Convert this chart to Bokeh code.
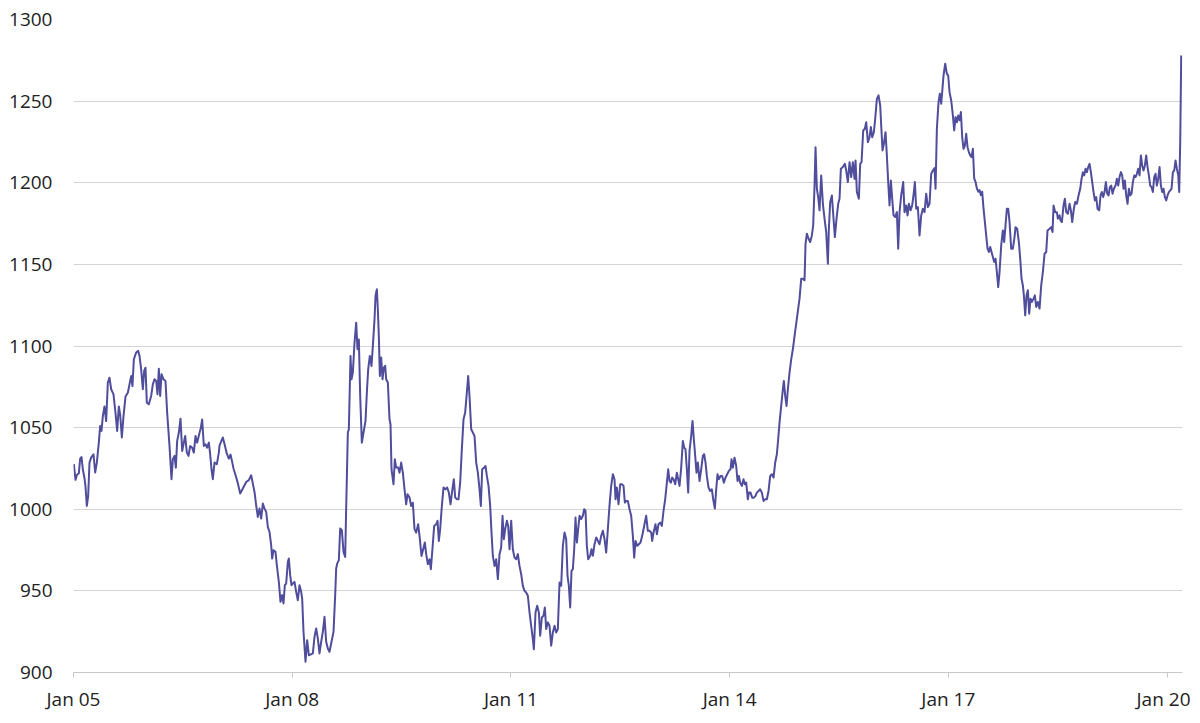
from bokeh.plotting import figure
from bokeh.models import FixedTicker
from bokeh.embed import file_html
from bokeh.resources import INLINE

# (years since Jan 2005, value) pairs
seg_2005_2007 = [(0.0046,1027.6),(0.0274,1018),(0.0457,1021),(0.0732,1022),(0.0914,1031),(0.1097,1032),(0.128,1024.5),(0.1509,1019),(0.1646,1014),(0.1829,1002),(0.2012,1008),(0.2195,1028.6),(0.2423,1031.6),(0.2743,1033.7),(0.2972,1022.5),(0.3201,1028.6),(0.3475,1041),(0.3658,1051),(0.3841,1048),(0.4024,1057),(0.4252,1063),(0.4481,1054),(0.471,1077.6),(0.4938,1080.6),(0.5167,1073.5),(0.5487,1070.4),(0.5761,1059),(0.599,1048),(0.6218,1063),(0.6401,1058),(0.663,1044),(0.6859,1057),(0.7133,1069),(0.7453,1071.4),(0.7682,1076.5),(0.791,1081.6),(0.8093,1075.5),(0.8276,1091.8),(0.8596,1096),(0.8871,1097),(0.9053,1094),(0.9282,1085.7),(0.9511,1073.5),(0.9694,1084.7),(0.9876,1086.7),(1.0059,1065.3),(1.0334,1064.3),(1.0654,1069.4),(1.0882,1076.5),(1.1111,1079.6),(1.134,1078.6),(1.1523,1070.4),(1.1706,1086),(1.1889,1069.4),(1.2071,1082.7),(1.2346,1079.6),(1.262,1078.6),(1.2849,1059),(1.3169,1038.8),(1.3443,1018.4),(1.3626,1030.6),(1.3855,1032.7),(1.4038,1025.5),(1.422,1041.9),(1.4449,1047),(1.4678,1055.5),(1.4906,1035.7),(1.5135,1040.8),(1.5318,1044.9),(1.5546,1034.7),(1.5775,1032.7),(1.6004,1038.8),(1.6278,1037.7),(1.6507,1034.7),(1.6735,1044.9),(1.6964,1040.8),(1.7238,1046),(1.7467,1050),(1.765,1055),(1.7878,1038.8),(1.8107,1039.8),(1.8336,1037.7),(1.8564,1040.8),(1.8747,1033.7),(1.893,1024.5),(1.9113,1018.4),(1.9341,1028.6),(1.9662,1027.6),(1.9936,1034.7)]

seg_2007_2008 = [(2.0027,1039),(2.0484,1044),(2.0713,1040),(2.1033,1034),(2.1307,1031),(2.1536,1033.5),(2.1765,1029),(2.1947,1025),(2.2222,1021),(2.2542,1016),(2.2862,1009.6),(2.3228,1012.7),(2.3685,1016.7),(2.4051,1017.8),(2.4371,1020.8),(2.46,1015.7),(2.4828,1010.6),(2.5057,1002.4),(2.5285,995.3),(2.5514,1000.4),(2.5743,994.3),(2.5971,1003.5),(2.62,1000.4),(2.6429,998.4),(2.6657,989.2),(2.6886,986.1),(2.7114,978),(2.7251,969.8),(2.7434,974.9),(2.7709,973.9),(2.7892,965.7),(2.8166,955.5),(2.8395,943.3),(2.8623,947.4),(2.8806,942.3),(2.8989,953.5),(2.9172,954.5),(2.9401,967.8),(2.9538,969.8),(2.9721,959.6),(2.9904,953.5),(3.0087,954.5),(3.0315,955.5),(3.0544,949.4),(3.0772,944.3),(3.1001,953.5),(3.123,949.4),(3.1367,945.3),(3.155,924.9),(3.1824,906.6),(3.2053,919.8),(3.2281,910.6),(3.251,911),(3.283,911.7),(3.3059,921.9),(3.3287,927),(3.3516,920.8),(3.3745,911.7),(3.3973,918.8),(3.4202,924.9),(3.443,934.1),(3.4659,918.8),(3.4888,914.7),(3.5116,912.7),(3.5345,917.8),(3.5665,924.9),(3.5894,947.4),(3.6031,963.7),(3.6168,966.7),(3.6397,968.8),(3.658,988.2),(3.6808,987.2),(3.7037,973.9),(3.7265,970.8),(3.7402,1000.4)]

seg_2008_2010 = [(3.7632,1047),(3.7769,1049),(3.7997,1093.9),(3.8135,1079.6),(3.8318,1083.7),(3.8546,1102),(3.8775,1114.3),(3.8958,1098),(3.9141,1104),(3.9323,1069.4),(3.9552,1040.8),(3.9781,1047),(4.0055,1054.1),(4.0238,1071.4),(4.0421,1085.7),(4.0649,1093.9),(4.0878,1087.8),(4.1061,1100),(4.129,1116.3),(4.1427,1130.6),(4.161,1134.7),(4.1747,1122.4),(4.1884,1106),(4.2021,1081.6),(4.2204,1092.9),(4.2387,1079.6),(4.257,1086.7),(4.2753,1087.8),(4.289,1079.6),(4.3119,1077.6),(4.3347,1055.1),(4.3484,1052),(4.3622,1024.5),(4.3896,1015.3),(4.4079,1030.6),(4.4262,1025.5),(4.4536,1025.5),(4.4719,1022.4),(4.4948,1028.6),(4.5176,1022.4),(4.5405,1012.3),(4.5634,1003),(4.5816,1009.2),(4.6091,1007.2),(4.6319,1002),(4.6548,1004),(4.6777,987.8),(4.7005,985.7),(4.728,990.8),(4.7463,983.7),(4.7737,971.4),(4.7966,975.5),(4.8194,979.6),(4.8377,972.5),(4.8606,966.4),(4.8834,969.4),(4.9017,963.3),(4.92,973.5),(4.9474,989.8),(4.9749,990.8),(4.9932,992.9),(5.0114,980.6),(5.0297,987.8),(5.0526,1002),(5.0755,1013.3),(5.1029,1012.3),(5.1258,1013.3),(5.1486,1010.2),(5.1715,1003),(5.1943,1011.2),(5.2172,1018.4),(5.2355,1007.2),(5.2584,1006.2),(5.2812,1006.2),(5.3041,1016.4),(5.3269,1036.8),(5.3498,1055.1),(5.3727,1059.2),(5.3955,1071.4),(5.4138,1081.6),(5.4321,1069.4),(5.455,1049),(5.4778,1047),(5.5007,1044.9),(5.5236,1028.6),(5.5464,1022.4),(5.5693,1012.3),(5.5876,1002),(5.6059,1024.5),(5.6333,1025.5),(5.6516,1026.5),(5.6699,1020.4),(5.6928,1014.3),(5.7156,1002),(5.7339,985.7),(5.7522,971.4),(5.7751,965.3),(5.7979,969.4),(5.8208,957.2),(5.8437,972.5)]

seg_2010_2012 = [(5.8665,976.6),(5.8848,996),(5.9031,981.7),(5.9214,987.8),(5.9442,992.9),(5.9625,989.8),(5.9808,975.5),(6.0037,992.9),(6.0265,975.5),(6.0494,970.4),(6.0723,969.4),(6.0951,972.5),(6.118,965.3),(6.1408,960.2),(6.1637,953.1),(6.1866,950),(6.2094,949),(6.2323,947),(6.2552,936.8),(6.278,928.6),(6.3009,920.5),(6.3146,914.3),(6.3375,936.8),(6.3603,940.9),(6.3832,936.8),(6.4015,922.5),(6.4244,933.7),(6.4472,934.8),(6.4655,939.8),(6.4838,926.6),(6.5066,930.7),(6.5295,928.6),(6.5524,916.4),(6.5752,924.5),(6.5981,928.6),(6.621,924.5),(6.6438,926.6),(6.6667,955.1),(6.6895,953.1),(6.7124,977.6),(6.7353,985.7),(6.7581,981.7),(6.7764,959.2),(6.7947,953.1),(6.813,939.8),(6.8313,962.3),(6.8496,963.3),(6.8679,975.5),(6.8862,994.9),(6.9044,979.6),(6.9227,987.8),(6.941,996),(6.9639,994),(6.9868,996),(7.005,1000),(7.0233,999),(7.0416,977.6),(7.0599,969.4),(7.0874,971.5),(7.1056,975.5),(7.1239,971.5),(7.1468,978.6),(7.1697,982.7),(7.1925,980.6),(7.2154,978.6),(7.2382,983.7),(7.2611,986.8),(7.284,981.7),(7.3068,973.5),(7.3297,987.8),(7.3526,1002.4),(7.3754,1014.3),(7.3983,1021.5),(7.4211,1018.4),(7.4349,1006.1),(7.4532,1013.3),(7.476,1003.1),(7.4989,1015.3),(7.5217,1015.3),(7.5446,1014.3),(7.5629,1004.1),(7.5812,1005.1),(7.604,1005.1),(7.6269,1000),(7.6498,996),(7.6726,983.7),(7.6909,970.4),(7.7092,980.6),(7.7321,977.6),(7.7549,978.6),(7.7778,979.6),(7.8007,983.7),(7.8235,988.8),(7.8555,996),(7.8784,986.8),(7.9013,986.8)]

seg_2012_2014 = [(7.9241,985.7),(7.9378,980.6),(7.9561,985.7),(7.9835,990.8),(8.0018,984.7),(8.0247,990.8),(8.0475,991.8),(8.0704,989.8),(8.0932,999),(8.1161,1006.1),(8.139,1016.3),(8.1573,1024.5),(8.1756,1017.3),(8.1938,1016.3),(8.2121,1019.4),(8.2304,1018.4),(8.2533,1015.3),(8.2761,1022.4),(8.2944,1018.4),(8.3127,1014.3),(8.3356,1025.5),(8.3585,1041.8),(8.3767,1037.7),(8.395,1036.7),(8.4133,1024.5),(8.4316,1010.2),(8.4499,1035.7),(8.4728,1044.9),(8.491,1054.1),(8.5093,1042.9),(8.5276,1032.7),(8.5459,1022.4),(8.5642,1028.6),(8.5871,1017.3),(8.6099,1024.5),(8.6328,1032.7),(8.6511,1033.7),(8.6694,1028.6),(8.6877,1020.4),(8.7105,1013.3),(8.7334,1011.2),(8.7563,1012.2),(8.7745,1006.1),(8.7974,1000.4),(8.8157,1012.2),(8.834,1021.4),(8.8523,1018.4),(8.8751,1020.4),(8.898,1020.4),(8.9209,1016.3),(8.9437,1019.4),(8.9666,1021.4),(8.9895,1023.5),(9.0123,1024.5),(9.026,1030.6),(9.0443,1025.5),(9.0672,1031.6),(9.0901,1026.5),(9.1083,1017.3),(9.1266,1020.4),(9.1449,1016.3),(9.1678,1014.3),(9.1906,1018.4),(9.2089,1015.3),(9.2272,1016.3),(9.2501,1006.1),(9.2638,1010.2),(9.2867,1010.2),(9.3095,1007.1),(9.3324,1007.1),(9.3553,1008.2),(9.3735,1010.2),(9.3964,1011.2),(9.4193,1012.2),(9.4421,1010.2),(9.465,1005.1),(9.4879,1006.1),(9.5107,1006.1),(9.5336,1011.2),(9.5565,1020.4),(9.5793,1021.4),(9.6022,1019.4),(9.625,1028.6),(9.6479,1033.7),(9.6662,1042.9),(9.6845,1053.1),(9.7074,1063.3),(9.7302,1073.5),(9.7439,1078.6),(9.7622,1069.4),(9.7805,1063.3),(9.7988,1073.5),(9.8217,1083.7),(9.8445,1091.8),(9.8674,1098),(9.8903,1106.1)]

seg_2014_2016 = [(9.9589,1129),(9.9818,1141.2),(10.0047,1141.2),(10.0275,1140.2),(10.0412,1162.6),(10.0595,1168.8),(10.0824,1165.7),(10.1052,1163.7),(10.1281,1167.7),(10.1464,1173.9),(10.1647,1198.4),(10.1784,1221.8),(10.1967,1196.3),(10.215,1191.2),(10.2333,1183.1),(10.2561,1204.5),(10.279,1187.1),(10.3018,1178),(10.3247,1169.8),(10.3476,1150.4),(10.3613,1171.8),(10.3796,1188.2),(10.4025,1192.2),(10.4253,1178),(10.4436,1166.7),(10.4665,1178),(10.4893,1187.1),(10.5076,1190.2),(10.5259,1208.6),(10.5533,1209.6),(10.5808,1211.6),(10.5991,1207.5),(10.6219,1200.4),(10.6448,1212.6),(10.6676,1203.5),(10.6905,1212.6),(10.7134,1202.4),(10.7271,1213.7),(10.7454,1194.3),(10.7728,1190.2),(10.7911,1211.6),(10.8094,1212.6),(10.8323,1232),(10.8551,1233.1),(10.8734,1237.1),(10.8963,1224.9),(10.9191,1227.9),(10.9374,1234.1),(10.9557,1227.9),(10.9786,1231),(10.9969,1239.2),(11.0197,1251.4),(11.0426,1253.5),(11.0654,1247.3),(11.0791,1235.1),(11.0974,1219.8),(11.1157,1223.9),(11.1386,1231),(11.1569,1216.7),(11.1751,1200.4),(11.1934,1186.1),(11.2117,1201.4),(11.23,1190.2),(11.2483,1180),(11.2712,1179),(11.294,1182),(11.3123,1159.6),(11.3306,1182),(11.3535,1192.2),(11.3809,1200.4),(11.3992,1182),(11.4221,1186.1),(11.4404,1180),(11.4586,1187.1),(11.4815,1183.1),(11.5044,1186.1),(11.5272,1194.3),(11.541,1200.4),(11.5592,1184.1),(11.5821,1185.1),(11.605,1167.7),(11.6278,1180),(11.6507,1184.1),(11.6736,1182),(11.6964,1193.3),(11.7193,1185.1),(11.7421,1187.1),(11.765,1205.5),(11.7879,1207.5),(11.8107,1209),(11.8245,1196.3),(11.8428,1233.1),(11.8656,1249.4),(11.8839,1254.5),(11.9022,1248.4)]

seg_2016_2018 = [(11.9158,1255.5),(11.9341,1265.7),(11.957,1272.9),(11.9799,1266.7),(11.9981,1265.7),(12.0164,1255.5),(12.0393,1250.4),(12.0622,1241.2),(12.0804,1232),(12.0987,1240.2),(12.117,1237.1),(12.1353,1241.2),(12.1536,1238.2),(12.1719,1243.3),(12.1902,1228),(12.2085,1220.8),(12.2268,1222.8),(12.2451,1230),(12.2634,1221.8),(12.2816,1218.8),(12.2999,1216.7),(12.3182,1215.7),(12.3365,1220.8),(12.3548,1202.7),(12.3731,1200.6),(12.3914,1196.5),(12.4097,1194.5),(12.428,1195.5),(12.4463,1192.4),(12.4645,1194.5),(12.4828,1184.1),(12.5011,1176),(12.5194,1167.8),(12.5377,1159.6),(12.556,1157.6),(12.5743,1160.6),(12.5926,1157.6),(12.6109,1154.5),(12.6292,1151.5),(12.6474,1153.5),(12.6657,1145.3),(12.684,1136.1),(12.7023,1145.3),(12.7252,1161.6),(12.748,1170.8),(12.7663,1163.7),(12.7846,1174),(12.8029,1184.1),(12.8212,1184.1),(12.8395,1176),(12.8623,1159.6),(12.8852,1159.6),(12.9081,1166.7),(12.9218,1172.8),(12.9446,1171.8),(12.9675,1163.7),(12.9858,1153.5),(13.0041,1141.2),(13.0224,1137.1),(13.0361,1131),(13.0544,1118.8),(13.0727,1131),(13.091,1134.1),(13.1093,1119.8),(13.1275,1129),(13.1458,1127),(13.1687,1129),(13.187,1131),(13.2053,1123.9),(13.2282,1127),(13.251,1122.9),(13.2739,1137.1),(13.2967,1145.3),(13.3196,1156.5),(13.3425,1157.6),(13.3607,1170.8),(13.3882,1171.8),(13.4111,1172.8),(13.4293,1169.8),(13.443,1186.1),(13.4659,1182),(13.4888,1182),(13.5025,1178),(13.5254,1180)]

seg_2018_2020 = [(13.5391,1176.9),(13.5574,1175.9),(13.5803,1186.1),(13.5986,1190.2),(13.6169,1182),(13.6397,1181),(13.6626,1187.1),(13.6809,1183.1),(13.6992,1175.9),(13.722,1184.1),(13.7403,1188.2),(13.7632,1187.1),(13.7861,1192.2),(13.8089,1196.3),(13.8272,1202.4),(13.8455,1206.5),(13.8638,1204.5),(13.8821,1208.6),(13.9004,1206.5),(13.9187,1209.6),(13.937,1211.6),(13.9553,1206.5),(13.9735,1200.4),(13.9918,1194.3),(14.0101,1189.2),(14.0284,1191.2),(14.0467,1184.1),(14.0696,1183.1),(14.0879,1192.2),(14.1062,1194.3),(14.1244,1191.2),(14.1427,1194.3),(14.161,1200.4),(14.1793,1193.3),(14.1976,1192.2),(14.2159,1197.3),(14.2342,1198.3),(14.2525,1193.3),(14.2708,1196.3),(14.2936,1198.3),(14.3119,1202.4),(14.3302,1198.3),(14.3485,1203.5),(14.3668,1206.5),(14.3851,1204.5),(14.4033,1196.3),(14.4216,1201.4),(14.4399,1192.2),(14.4582,1187.1),(14.4765,1196.3),(14.4948,1192.2),(14.5131,1193.3),(14.5314,1200.4),(14.5497,1204.5),(14.568,1203.5),(14.5862,1205.5),(14.6045,1208.6),(14.6228,1204.5),(14.6411,1216.7),(14.6594,1210.6),(14.6777,1207.5),(14.696,1210.6),(14.7143,1216.7),(14.7326,1209.6),(14.7509,1204.5),(14.7691,1198.3),(14.7874,1197.3),(14.8057,1194.3),(14.824,1203.5),(14.8423,1205.5),(14.8606,1198.3),(14.8789,1202.4),(14.8972,1209.6),(14.9155,1198.3),(14.9338,1194.3),(14.952,1196.3),(14.9703,1191.2),(14.9886,1189.2),(15.0069,1192.2),(15.0252,1194.3),(15.0435,1195.3),(15.0618,1196.3),(15.0801,1206.5),(15.0984,1207.5),(15.1167,1213.7),(15.1349,1208.6),(15.1532,1204.5),(15.1669,1194.3),(15.1807,1224.9),(15.1944,1278)]

x_tick_years = [2005, 2008, 2011, 2014, 2017, 2020]
x_tick_labels = ["Jan 05", "Jan 08", "Jan 11", "Jan 14", "Jan 17", "Jan 20"]
y_ticks = [900, 950, 1000, 1050, 1100, 1150, 1200, 1250, 1300]

segments = [seg_2005_2007, seg_2007_2008, seg_2008_2010, seg_2010_2012,
            seg_2012_2014, seg_2014_2016, seg_2016_2018, seg_2018_2020]
xs, ys = [], []
for seg in segments:
    for t, v in seg:
        xs.append(2005 + t)
        ys.append(v)

FONT = "Open Sans"
TEXT = "#222222"

p = figure(width=1190, height=714, x_range=(2005, 2020.212), y_range=(900, 1300),
           output_backend="svg", toolbar_location=None,
           min_border_left=73, min_border_right=8, min_border_top=19, min_border_bottom=41)
p.background_fill_color = "white"
p.border_fill_color = "white"
p.outline_line_color = None

p.line(xs, ys, line_color="#4F4D9C", line_width=2, line_join="round")

p.xaxis.ticker = FixedTicker(ticks=x_tick_years)
p.xaxis.major_label_overrides = {yr: lab for yr, lab in zip(x_tick_years, x_tick_labels)}
p.xaxis.axis_line_color = "#C8C8C8"
p.xaxis.major_tick_line_color = "#C8C8C8"
p.xaxis.major_tick_in = 0
p.xaxis.major_tick_out = 5
p.xaxis.minor_tick_line_color = None
p.xaxis.major_label_standoff = 8

p.yaxis.ticker = FixedTicker(ticks=y_ticks)
p.yaxis.axis_line_color = None
p.yaxis.major_tick_line_color = None
p.yaxis.minor_tick_line_color = None
p.yaxis.major_tick_in = 0
p.yaxis.major_tick_out = 0
p.yaxis.major_label_standoff = 21

for ax in (p.xaxis, p.yaxis):
    ax.major_label_text_font = FONT
    ax.major_label_text_font_size = "19px"
    ax.major_label_text_color = TEXT

p.xgrid.grid_line_color = None
p.ygrid.ticker = FixedTicker(ticks=y_ticks)
p.ygrid.grid_line_color = "#D4D4D4"
p.ygrid.grid_line_width = 1

open("out.html", "w").write(file_html(p, INLINE))
